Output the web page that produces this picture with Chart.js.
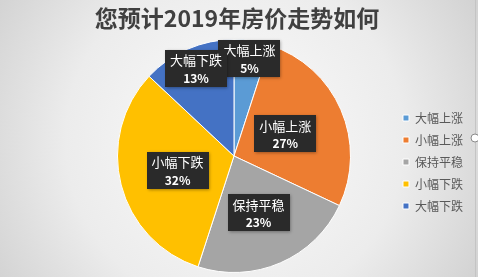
<!DOCTYPE html>
<html>
<head>
<meta charset="utf-8">
<script src="https://cdn.jsdelivr.net/npm/chart.js@4/dist/chart.umd.min.js"></script>
<style>
  html, body { margin: 0; padding: 0; background: #fff; }
  #wrap { width: 478px; height: 277px; position: relative; }
</style>
</head>
<body>
<div id="wrap"><canvas id="c"></canvas></div>
<script>
// donnees
const titre = '您预计2019年房价走势如何';
const categories = ['大幅上涨', '小幅上涨', '保持平稳', '小幅下跌', '大幅下跌'];
const valeurs = [5, 27, 23, 32, 13];
const couleurs = ['#5B9BD5', '#ED7D31', '#A5A5A5', '#FFC000', '#4472C4'];

const FONT = '"Noto Sans CJK SC", "Noto Sans", sans-serif';

/* fond gris en degrade + bord droit du cadre */
const fond = {
    id: 'fond',
    beforeDraw(chart) {
        const { ctx, width, height } = chart;
        ctx.save();
        const g = ctx.createRadialGradient(235, 140, 10, 235, 140, 300);
        g.addColorStop(0, '#fbfbfb');
        g.addColorStop(0.55, '#ececec');
        g.addColorStop(1, '#cdcdcd');
        ctx.fillStyle = g;
        ctx.fillRect(0, 0, width, height);
        ctx.strokeStyle = '#c4c4c4';
        ctx.lineWidth = 1;
        ctx.beginPath();
        ctx.moveTo(475.5, 0);
        ctx.lineTo(475.5, height);
        ctx.stroke();
        ctx.beginPath();
        ctx.arc(475, 138, 4, 0, Math.PI * 2);
        ctx.fillStyle = '#fff';
        ctx.fill();
        ctx.strokeStyle = '#8a8a8a';
        ctx.stroke();
        // titre centre sur toute la largeur (pas seulement sur la zone du graphique)
        ctx.fillStyle = '#404040';
        ctx.font = 'bold 23px ' + FONT;
        ctx.textAlign = 'center';
        ctx.textBaseline = 'middle';
        ctx.fillText(titre, 237, 18);
        ctx.restore();
    }
};

/* etiquettes dans des boites sombres */
const etiquettes = {
    id: 'etiquettes',
    afterDatasetsDraw(chart, args, opts) {
        const { ctx } = chart;
        const meta = chart.getDatasetMeta(0);
        const total = valeurs.reduce((a, b) => a + b, 0);
        meta.data.forEach((arc, i) => {
            const p = arc.getProps(['x', 'y', 'startAngle', 'endAngle', 'outerRadius']);
            const a = (p.startAngle + p.endAngle) / 2;
            const r = p.outerRadius * opts.rayons[i];
            const x = p.x + Math.cos(a) * r;
            const y = p.y + Math.sin(a) * r;
            const l1 = categories[i];
            const l2 = Math.round(valeurs[i] / total * 100) + '%';
            ctx.save();
            ctx.font = '13px ' + FONT;
            const w = ctx.measureText(l1).width + 10;
            const h = 37;
            ctx.shadowColor = 'rgba(0,0,0,0.35)';
            ctx.shadowBlur = 3;
            ctx.shadowOffsetX = 1;
            ctx.shadowOffsetY = 1;
            ctx.fillStyle = '#2a2a2a';
            ctx.fillRect(Math.round(x - w / 2), Math.round(y - h / 2), w, h);
            ctx.shadowColor = 'transparent';
            ctx.fillStyle = '#ffffff';
            ctx.textAlign = 'center';
            ctx.textBaseline = 'middle';
            ctx.fillText(l1, x, y - 8);
            ctx.font = 'bold 12px ' + FONT;
            ctx.fillText(l2, x, y + 10);
            ctx.restore();
        });
    }
};

new Chart(document.getElementById('c'), {
    type: 'pie',
    data: {
        labels: categories,
        datasets: [{
            data: valeurs,
            backgroundColor: couleurs,
            borderColor: '#ffffff',
            borderWidth: 1
        }]
    },
    options: {
        responsive: true,
        maintainAspectRatio: false,
        animation: false,
        layout: { padding: { left: 75, right: 5, top: 39, bottom: 4 } },
        plugins: {
            title: { display: false },
            legend: {
                position: 'right',
                // titre vide : sert juste a descendre un peu les items
                title: { display: true, text: ' ', font: { size: 10, lineHeight: 1.2 }, padding: 0 },
                labels: {
                    boxWidth: 6,
                    boxHeight: 6,
                    padding: 10,
                    color: '#595959',
                    font: { family: FONT, size: 12 }
                }
            },
            tooltip: { enabled: false },
            etiquettes: { rayons: [0.85, 0.48, 0.53, 0.5, 0.82] }
        }
    },
    plugins: [fond, etiquettes]
});
</script>
</body>
</html>
